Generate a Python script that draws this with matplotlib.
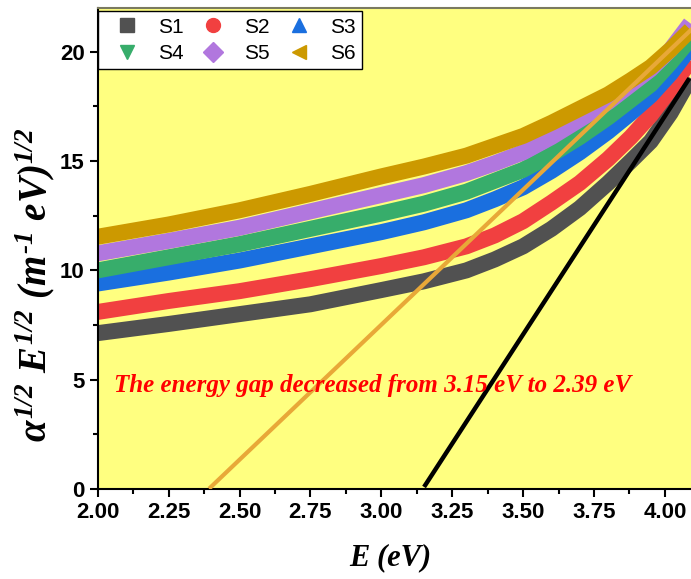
import matplotlib
matplotlib.use('Agg')
import matplotlib.pyplot as plt
from matplotlib.lines import Line2D

plt.rcParams['mathtext.fontset'] = 'custom'
plt.rcParams['mathtext.rm'] = 'Liberation Serif:bold:italic'
plt.rcParams['mathtext.it'] = 'Liberation Serif:bold:italic'
plt.rcParams['mathtext.bf'] = 'Liberation Serif:bold:italic'

# photon energy (eV) where the curves were read
energy = [2.0, 2.25, 2.5, 2.75, 3.0, 3.15, 3.3, 3.4, 3.5, 3.6, 3.7, 3.8, 3.88, 3.95, 4.02, 4.09]

s1 = [7.13, 7.55, 8.0, 8.45, 9.1, 9.5, 10.0, 10.5, 11.1, 11.9, 12.85, 14.0, 15.0, 15.9, 17.2, 18.8]
s2 = [8.1, 8.6, 9.05, 9.6, 10.2, 10.6, 11.1, 11.6, 12.25, 13.1, 14.0, 15.1, 16.1, 17.1, 18.3, 19.6]
s3 = [9.4, 9.9, 10.45, 11.1, 11.75, 12.2, 12.75, 13.25, 13.8, 14.55, 15.4, 16.35, 17.2, 18.0, 19.0, 20.2]
s4 = [10.0, 10.6, 11.2, 11.9, 12.6, 13.05, 13.6, 14.1, 14.6, 15.3, 16.1, 17.0, 17.8, 18.5, 19.5, 20.6]
s5 = [10.78, 11.35, 11.95, 12.7, 13.45, 13.9, 14.45, 14.9, 15.4, 16.1, 16.9, 17.7, 18.5, 19.2, 20.1, 21.3]
s6 = [11.54, 12.1, 12.75, 13.5, 14.3, 14.75, 15.25, 15.7, 16.15, 16.75, 17.4, 18.05, 18.7, 19.3, 20.1, 21.0]

names = ['S1', 'S2', 'S3', 'S4', 'S5', 'S6']
series = [s1, s2, s3, s4, s5, s6]
colors = ['#515151', '#F14040', '#1A6FDF', '#37AD6B', '#B177DE', '#CC9900']
markers = ['s', 'o', '^', 'v', 'D', '<']

# Tauc fit lines (energy, value) end points
fit_black_x = [3.155, 4.082]
fit_black_y = [0.18, 18.7]
fit_gold_x = [2.398, 4.092]
fit_gold_y = [0.08, 21.0]

fig = plt.figure(figsize=(6.91, 5.79), dpi=100)
ax = fig.add_axes([0.1414, 0.1554, 0.8586, 0.8307])
ax.set_facecolor('#FFFF80')

for ys, c in zip(series, colors):
    ax.plot(energy, ys, color=c, lw=11.5, solid_capstyle='butt',
            solid_joinstyle='round', zorder=2)

ax.plot(fit_gold_x, fit_gold_y, color='#E8A838', lw=3, zorder=3)
ax.plot(fit_black_x, fit_black_y, color='black', lw=3.2, zorder=3)

ax.text(2.056, 4.45, 'The energy gap decreased from 3.15 eV to 2.39 eV',
        color='#FF0000', fontsize=18, family='Liberation Serif',
        weight='bold', style='italic', va='baseline', ha='left', zorder=4)

ax.set_xlim(2.0, 4.092)
ax.set_ylim(0, 22)
ax.set_xticks([2.0, 2.25, 2.5, 2.75, 3.0, 3.25, 3.5, 3.75, 4.0])
ax.set_xticks([2.125 + 0.25 * i for i in range(8)], minor=True)
ax.set_yticks([0, 5, 10, 15, 20])
ax.set_yticks([2.5, 7.5, 12.5, 17.5], minor=True)
ax.tick_params(which='major', direction='out', length=6, width=1.5)
ax.tick_params(which='minor', direction='out', length=3.5, width=1.5)
for lab in ax.get_xticklabels() + ax.get_yticklabels():
    lab.set_family('Liberation Sans')
    lab.set_weight('bold')
    lab.set_fontsize(16)

ax.spines['right'].set_visible(False)
ax.spines['left'].set_linewidth(1.5)
ax.spines['bottom'].set_linewidth(1.5)
ax.spines['top'].set_color('#7a7a60')
ax.spines['top'].set_linewidth(1.5)

ax.set_xlabel('E (eV)', family='Liberation Serif', weight='bold',
              style='italic', fontsize=22)
ax.xaxis.set_label_coords(0.493, -0.112)
ax.set_ylabel(r'$\alpha^{1/2}\ E^{1/2}\ (m^{\text{-}1}\ eV)^{1/2}$', fontsize=28)
ax.yaxis.set_label_coords(-0.068, 0.425)

handles = [Line2D([], [], ls='none', marker=m, color=c, markersize=10)
           for m, c in zip(markers, colors)]
order = [0, 3, 1, 4, 2, 5]
leg = ax.legend([handles[i] for i in order], [names[i] for i in order],
                ncol=3, loc='upper left', bbox_to_anchor=(0.0, 0.993),
                borderaxespad=0, fancybox=False, framealpha=1,
                edgecolor='black', prop={'family': 'Liberation Sans', 'size': 15},
                borderpad=0.3, handlelength=2.2, handletextpad=0.4,
                columnspacing=0.3, labelspacing=0.35)
leg.get_frame().set_linewidth(1.0)

fig.savefig('out.png', dpi=100)
